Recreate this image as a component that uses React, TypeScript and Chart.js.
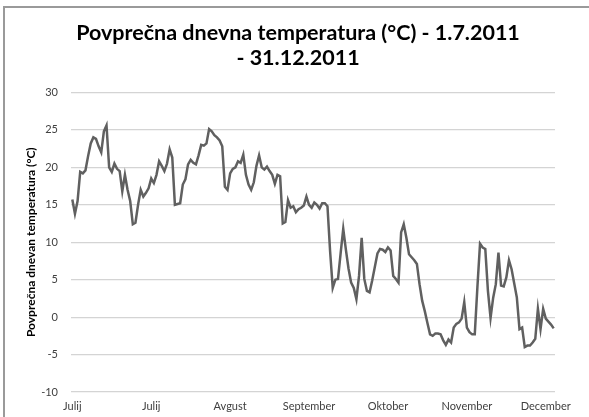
import React, { useEffect, useRef } from "react";
import { Chart, registerables } from "chart.js";

Chart.register(...registerables);

const titleLines = ["Povprečna dnevna temperatura (°C) - 1.7.2011", "- 31.12.2011"];
const yAxisTitle = "Povprečna dnevan temperatura (°C)";
const monthNames = ["Julij", "Avgust", "September", "Oktober", "November", "December"];
const monthLengths = [31, 31, 30, 31, 30, 31];
const labelEvery = 30;

const temps = [
  15.7, 13.8, 15.5, 19.4, 19.2, 19.6, 21.5, 23.2, 24.0, 23.8,
  22.8, 22.0, 24.8, 25.6, 20.0, 19.4, 20.5, 19.8, 19.5, 16.8,
  19.0, 17.0, 15.5, 12.4, 12.6, 15.0, 17.0, 16.1, 16.6, 17.2,
  18.5, 17.9, 19.0, 20.8, 20.2, 19.5, 20.5, 22.4, 21.3, 15.0,
  15.1, 15.2, 17.7, 18.4, 20.4, 21.0, 20.6, 20.4, 21.6, 23.0,
  22.9, 23.2, 25.1, 24.8, 24.3, 24.0, 23.6, 22.8, 17.4, 17.0,
  19.2, 19.8, 20.0, 20.8, 20.6, 21.7, 19.0, 17.7, 17.0, 18.0,
  20.2, 21.6, 20.0, 19.7, 20.1, 19.5, 19.0, 17.8, 19.0, 18.8,
  12.5, 12.7, 15.6, 14.6, 14.8, 14.0, 14.4, 14.6, 14.9, 16.1,
  15.0, 14.6, 15.3, 15.0, 14.5, 15.2, 15.2, 14.8, 8.8, 3.9,
  5.0, 5.1, 8.5, 11.8, 9.0, 6.5, 4.6, 3.9, 2.4, 5.5,
  10.6, 5.1, 3.5, 3.3, 4.9, 6.7, 8.5, 9.1, 9.0, 8.7,
  9.3, 8.9, 5.5, 5.1, 4.6, 11.3, 12.4, 10.6, 8.4, 8.0,
  7.6, 7.1, 4.4, 2.2, 0.8, -0.8, -2.3, -2.5, -2.2, -2.2,
  -2.3, -3.1, -3.7, -3.0, -3.4, -1.4, -0.9, -0.7, -0.2, 2.0,
  -1.4, -2.0, -2.3, -2.3, 4.0, 9.8, 9.3, 9.1, 3.5, -0.1,
  2.6, 4.4, 8.6, 4.2, 4.1, 5.3, 7.6, 6.4, 4.5, 2.6,
  -1.6, -1.4, -4.0, -3.8, -3.8, -3.4, -2.9, 1.1, -1.6, 1.1,
  -0.2, -0.6, -1.0, -1.5,
];

const yMin = -10;
const yMax = 30;
const yStep = 5;

// daily category labels: month name of each day (1.7.2011 .. 31.12.2011)
const dayLabels: string[] = [];
monthLengths.forEach((len, m) => {
  for (let d = 0; d < len; d++) dayLabels.push(monthNames[m]);
});

const FONT = "Lato, 'Liberation Sans', sans-serif";

export default function App() {
  const ref = useRef<HTMLCanvasElement | null>(null);
  useEffect(() => {
    if (!ref.current) return;
    const chart = new Chart(ref.current, {
      type: "line",
      data: {
        labels: dayLabels.slice(0, temps.length),
        datasets: [
          {
            data: temps,
            borderColor: "#606060",
            borderWidth: 2.5,
            pointRadius: 0,
            tension: 0,
            fill: false,
          },
        ],
      },
      options: {
        animation: false,
        responsive: false,
        maintainAspectRatio: false,
        layout: { padding: { left: 7, right: 0, top: 0, bottom: 0 } },
        plugins: {
          legend: { display: false },
          tooltip: { enabled: false },
          title: {
            display: true,
            text: titleLines,
            color: "#000000",
            font: { family: FONT, size: 21.5, weight: "bold", lineHeight: 1.15 },
            padding: { top: 21, bottom: 22 },
          },
        },
        scales: {
          x: {
            type: "category",
            offset: true,
            grid: { display: false, drawTicks: false },
            border: { display: false },
            ticks: {
              autoSkip: false,
              maxRotation: 0,
              minRotation: 0,
              padding: 8,
              color: "#404040",
              font: { family: FONT, size: 11 },
              callback: (_v: any, i: number) => (i % labelEvery === 0 ? dayLabels[i] : null),
            },
            afterFit: (s: any) => {
              s.height = 25;
            },
          },
          y: {
            min: yMin,
            max: yMax,
            grid: { color: "#d4d4d4", lineWidth: 1.2, drawTicks: false },
            border: { display: false },
            ticks: {
              stepSize: yStep,
              padding: 13,
              color: "#404040",
              font: { family: FONT, size: 11 },
            },
            title: {
              display: true,
              text: yAxisTitle,
              color: "#000000",
              font: { family: FONT, size: 12, weight: "bold" },
              padding: { top: 17, bottom: 0 },
            },
            afterFit: (s: any) => {
              s.width = 64;
            },
          },
          y2: {
            position: "right",
            display: true,
            grid: { display: false, drawTicks: false },
            border: { display: false },
            ticks: { display: false },
            afterFit: (s: any) => {
              s.width = 34;
            },
          },
        },
      },
    });
    return () => chart.destroy();
  }, []);

  return (
    <div style={{ position: "fixed", left: 0, top: 0, width: 589, height: 417, background: "#fff", overflow: "hidden" }}>
      <canvas ref={ref} width={589} height={417} style={{ position: "absolute", left: 0, top: 0 }} />
      <div
        style={{
          position: "absolute",
          left: 3,
          top: 6,
          width: 620,
          height: 500,
          borderTop: "2px solid #9a9a9a",
          borderLeft: "2px solid #9a9a9a",
          pointerEvents: "none",
        }}
      />
    </div>
  );
}
